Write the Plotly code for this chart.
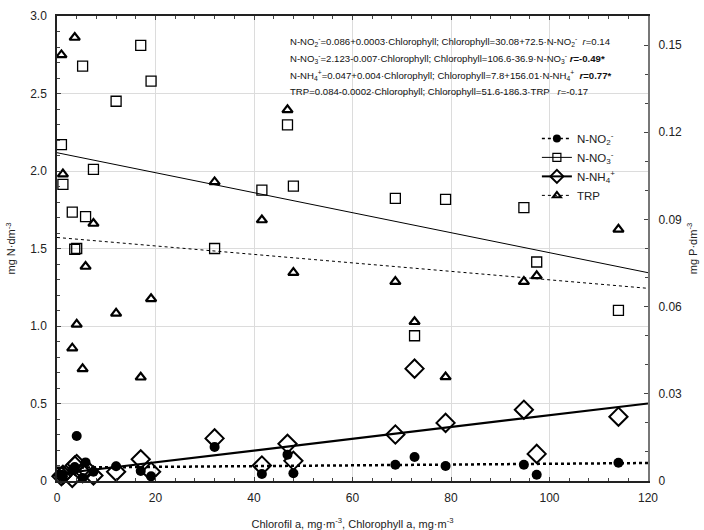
import plotly.graph_objects as go

# Chlorophyll a (mg/m3) for each sample
chl = [0.9, 1.2, 3.1, 3.6, 4.0, 5.2, 5.8, 7.4, 12.0, 17.0, 19.1, 32.0, 41.6, 46.8, 48.0,
       68.7, 72.6, 78.9, 94.8, 97.4, 114.0]
# left axis: mg N/dm3
no2 = [0.04, 0.03, 0.07, 0.09, 0.29, 0.02, 0.12, 0.06, 0.095, 0.065, 0.03, 0.22, 0.045, 0.17, 0.05,
       0.105, 0.155, 0.097, 0.105, 0.04, 0.118]
no3 = [2.17, 1.914, 1.735, 1.495, 1.50, 2.677, 1.705, 2.01, 2.45, 2.81, 2.58, 1.50, 1.877, 2.297, 1.903,
       1.824, 0.937, 1.817, 1.764, 1.413, 1.101]
nh4 = [0.03, 0.04, 0.02, 0.10, 0.11, 0.05, 0.08, 0.035, 0.06, 0.14, 0.06, 0.275, 0.10, 0.24, 0.13,
       0.30, 0.725, 0.375, 0.46, 0.175, 0.415]
# right axis: mg P/dm3
trp = [0.1466, 0.1056, 0.0457, 0.1526, 0.0539, 0.0386, 0.0738, 0.0886, 0.0577, 0.0357, 0.0627, 0.1029,
       0.0898, 0.1277, 0.0717, 0.0686, 0.0548, 0.0358, 0.0686, 0.0706, 0.0866]

# regression line end values
fit_x = [0, 120]
fit_no2 = [0.086, 0.116]
fit_no3 = [2.118, 1.344]
fit_nh4 = [0.045, 0.50]
fit_trp = [0.0838, 0.0663]

left_ticks = [0, 0.5, 1.0, 1.5, 2.0, 2.5, 3.0]
left_ticktext = ["0", "0.5", "1.0", "1.5", "2.0", "2.5", "3.0"]
right_ticks = [0, 0.03, 0.06, 0.09, 0.12, 0.15]
right_ticktext = ["0", "0.03", "0.06", "0.09", "0.12", "0.15"]
x_ticks = [0, 20, 40, 60, 80, 100, 120]

names = ["N-NO<sub>2</sub><sup>-</sup>", "N-NO<sub>3</sub><sup>-</sup>",
         "N-NH<sub>4</sub><sup>+</sup>", "TRP"]

eq_lines = [
    "N-NO<sub>2</sub><sup>-</sup>=0.086+0.0003·Chlorophyll; Chlorophyll=30.08+72.5·N-NO<sub>2</sub><sup>-</sup>  <i>r</i>=0.14",
    "N-NO<sub>3</sub><sup>-</sup>=2.123-0.007·Chlorophyll; Chlorophyll=106.6-36.9·N-NO<sub>3</sub><sup>-</sup> <b><i>r</i>=-0.49*</b>",
    "N-NH<sub>4</sub><sup>+</sup>=0.047+0.004·Chlorophyll; Chlorophyll=7.8+156.01·N-NH<sub>4</sub><sup>+</sup>  <b><i>r</i>=0.77*</b>",
    "TRP=0.084-0.0002·Chlorophyll; Chlorophyll=51.6-186.3·TRP   <i>r</i>=-0.17",
]
eq_y = [2.834, 2.727, 2.619, 2.512]

FONT = "Arial, Liberation Sans, sans-serif"
fig = go.Figure()

# fit lines
fig.add_trace(go.Scatter(x=fit_x, y=fit_no3, mode="lines", line=dict(color="black", width=1),
                         showlegend=False, hoverinfo="skip"))
fig.add_trace(go.Scatter(x=fit_x, y=fit_trp, mode="lines", line=dict(color="black", width=1, dash="dot"),
                         yaxis="y2", showlegend=False, hoverinfo="skip"))
fig.add_trace(go.Scatter(x=fit_x, y=fit_nh4, mode="lines", line=dict(color="black", width=2.2),
                         showlegend=False, hoverinfo="skip"))
fig.add_trace(go.Scatter(x=fit_x, y=fit_no2, mode="lines", line=dict(color="black", width=2.5, dash="dot"),
                         showlegend=False, hoverinfo="skip"))

# points
fig.add_trace(go.Scatter(x=chl, y=no2, mode="markers", showlegend=False,
                         marker=dict(symbol="circle", size=10, color="black"), cliponaxis=False))
fig.add_trace(go.Scatter(x=chl, y=no3, mode="markers", showlegend=False,
                         marker=dict(symbol="square-open", size=10, color="black", line=dict(width=1.3)),
                         cliponaxis=False))
fig.add_trace(go.Scatter(x=chl, y=nh4, mode="markers", showlegend=False,
                         marker=dict(symbol="diamond-open", size=14, color="black", line=dict(width=2)),
                         cliponaxis=False))
fig.add_trace(go.Scatter(x=chl, y=trp, mode="markers", yaxis="y2", showlegend=False,
                         marker=dict(symbol="triangle-up-open", size=9, color="black", line=dict(width=2.2)),
                         cliponaxis=False))

# legend entries (line + marker)
leg_specs = [
    (dict(symbol="circle", size=8, color="black"), dict(color="black", width=1.5, dash="dot")),
    (dict(symbol="square-open", size=8, color="black", line=dict(width=1.2)), dict(color="black", width=1)),
    (dict(symbol="diamond-open", size=10, color="black", line=dict(width=2)), dict(color="black", width=2)),
    (dict(symbol="triangle-up-open", size=7, color="black", line=dict(width=2)), dict(color="black", width=1, dash="dot")),
]
for nm, (mk, ln) in zip(names, leg_specs):
    fig.add_trace(go.Scatter(x=[None], y=[None], mode="lines+markers", name=nm, marker=mk, line=ln))

for t, yv in zip(eq_lines, eq_y):
    fig.add_annotation(x=47, y=yv, xref="x", yref="y", text=t, showarrow=False, xanchor="left",
                       yanchor="middle", font=dict(family=FONT, size=9.6, color="#111"))

fig.update_layout(
    width=704, height=530,
    margin=dict(l=57, r=56, t=16, b=49),
    plot_bgcolor="white", paper_bgcolor="white",
    font=dict(family=FONT, size=12, color="#222"),
    showlegend=True,
    legend=dict(x=0.812, y=0.768, xanchor="left", yanchor="top", bgcolor="rgba(0,0,0,0)",
                font=dict(family=FONT, size=11.5, color="#222"), itemwidth=30, tracegroupgap=0),
    xaxis=dict(range=[0, 120], tickvals=x_ticks, showgrid=True, gridcolor="#dcdcdc", gridwidth=1,
               zeroline=False, showline=True, linecolor="#222", linewidth=1.5, mirror="ticks",
               ticks="inside", ticklen=4, tickcolor="#444", automargin=False, ticklabelstandoff=5,
               minor=dict(dtick=4, ticks="inside", ticklen=3, tickcolor="#444", showgrid=False),
               tickfont=dict(size=12, color="#222"),
               title=dict(text="Chlorofil a, mg·m<sup>-3</sup>, Chlorophyll a, mg·m<sup>-3</sup>",
                          font=dict(size=11, color="#222"), standoff=18)),
    yaxis=dict(range=[0, 3], tickvals=left_ticks, ticktext=left_ticktext, showgrid=True,
               gridcolor="#dcdcdc", gridwidth=1, zeroline=False, showline=True, linecolor="#222",
               linewidth=1.5, ticks="inside", ticklen=4, tickcolor="#444", automargin=False,
               ticklabelstandoff=6,
               minor=dict(dtick=0.1, ticks="inside", ticklen=3, tickcolor="#444", showgrid=False),
               tickfont=dict(size=12, color="#222"),
               title=dict(text="mg N·dm<sup>-3</sup>", font=dict(size=11, color="#222"), standoff=12)),
    yaxis2=dict(range=[0, 0.16], overlaying="y", side="right", tickvals=right_ticks,
                ticktext=right_ticktext, showgrid=False, zeroline=False, showline=True,
                linecolor="#777", linewidth=2, ticks="inside", ticklen=4, tickcolor="#444",
                automargin=False, ticklabelstandoff=6,
                minor=dict(dtick=0.01, ticks="inside", ticklen=3, tickcolor="#444", showgrid=False),
                tickfont=dict(size=12, color="#222"),
                title=dict(text="mg P·dm<sup>-3</sup>", font=dict(size=11, color="#222"), standoff=8)),
)

fig.write_html("out.html")
